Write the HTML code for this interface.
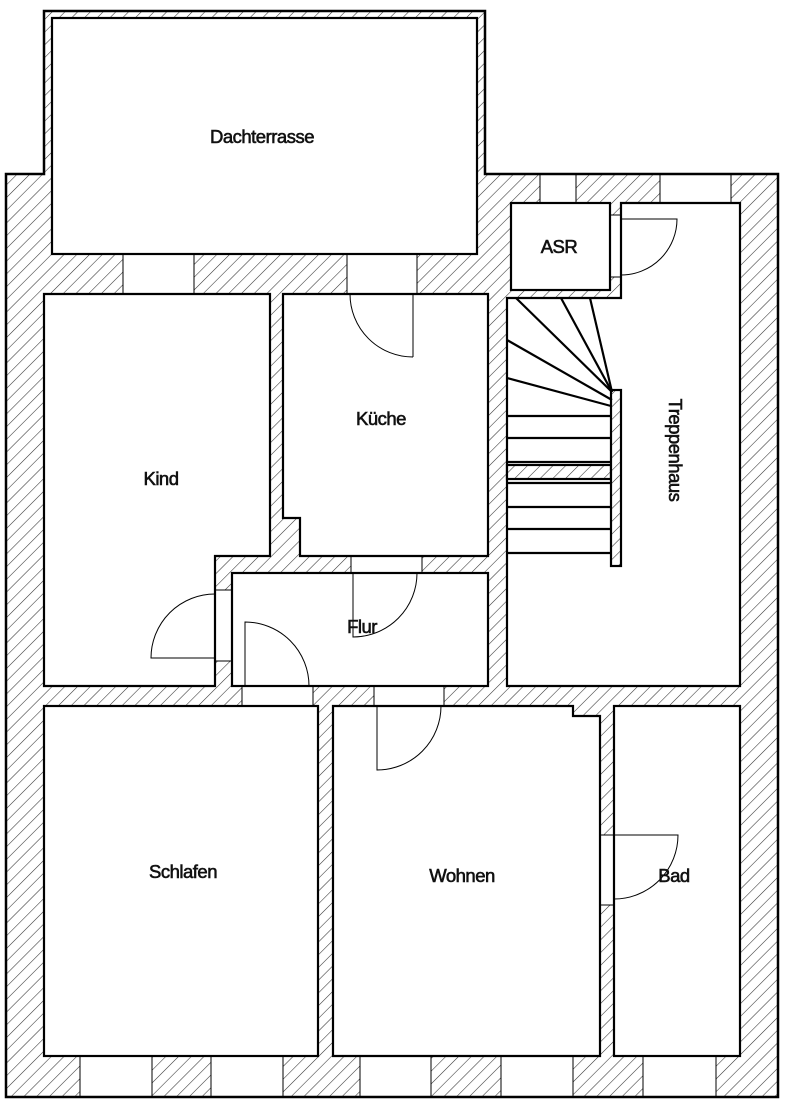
<!DOCTYPE html>
<html><head><meta charset="utf-8"><style>html,body{margin:0;padding:0;background:#fff}svg{display:block}</style></head>
<body>
<svg width="785" height="1105" viewBox="0 0 785 1105" xmlns="http://www.w3.org/2000/svg">
<defs>
<pattern id="h" patternUnits="userSpaceOnUse" width="9" height="9" patternTransform="rotate(45)">
<rect width="9" height="9" fill="#fff"/>
<line x1="0" y1="0" x2="0" y2="9" stroke="#333" stroke-width="1.1"/>
</pattern>
</defs>
<polygon points="6,174 44,174 44,11 485,11 485,174 778,174 778,1097 6,1097" fill="url(#h)"/>
<g fill="#fff" stroke="#000" stroke-width="1">
<rect x="123" y="254" width="71" height="40"/>
<rect x="347" y="254" width="70" height="40"/>
<rect x="540" y="174" width="36" height="29"/>
<rect x="660" y="174" width="71" height="29"/>
<rect x="80" y="1056" width="72" height="41"/>
<rect x="211" y="1056" width="72" height="41"/>
<rect x="360" y="1056" width="71" height="41"/>
<rect x="501" y="1056" width="72" height="41"/>
<rect x="643" y="1056" width="73" height="41"/>
<rect x="351" y="556" width="71" height="17"/>
<rect x="242" y="686" width="71" height="20"/>
<rect x="374" y="686" width="70" height="20"/>
<rect x="215" y="590" width="17" height="71"/>
<rect x="600" y="835" width="14" height="70"/>
<rect x="610" y="215" width="11" height="62"/>
</g>
<g fill="#fff" stroke="#000" stroke-width="2.2">
<rect x="52" y="18" width="425" height="236"/>
<polygon points="44,294 270,294 270,556 215,556 215,686 44,686"/>
<polygon points="283,294 488,294 488,556 300,556 300,518 283,518"/>
<rect x="232" y="573" width="256" height="113"/>
<polygon points="621,203 740,203 740,686 507,686 507,298 621,298"/>
<rect x="511" y="203" width="99" height="87"/>
<rect x="44" y="706" width="274" height="350"/>
<polygon points="333,706 573,706 573,716 600,716 600,1056 333,1056"/>
<rect x="614" y="706" width="126" height="350"/>
</g>
<g stroke="#000" stroke-width="2.2">
<rect x="507" y="465" width="104" height="14" fill="url(#h)"/>
<rect x="611" y="390" width="10" height="176" fill="url(#h)"/>
<line x1="612" y1="392" x2="516" y2="298"/>
<line x1="612" y1="392" x2="561" y2="298"/>
<line x1="612" y1="392" x2="590" y2="298"/>
<line x1="612" y1="400" x2="507" y2="340"/>
<line x1="611" y1="406" x2="507" y2="378"/>
<line x1="507" y1="416" x2="611" y2="416"/>
<line x1="507" y1="438" x2="611" y2="438"/>
<line x1="507" y1="462" x2="611" y2="462"/>
<line x1="507" y1="483" x2="611" y2="483"/>
<line x1="507" y1="507" x2="611" y2="507"/>
<line x1="507" y1="529" x2="611" y2="529"/>
<line x1="507" y1="553" x2="611" y2="553"/>
</g>
<g fill="none" stroke="#000" stroke-width="1">
<path d="M413,294 L413,357 M350,294 A63,63 0 0 0 413,357"/>
<path d="M353,573 L353,637 A64,64 0 0 0 417,573"/>
<path d="M215,658 L151,658 A64,64 0 0 1 215,594"/>
<path d="M245,686 L245,622 A64,64 0 0 1 309,686"/>
<path d="M377,706 L377,770 A64,64 0 0 0 441,706"/>
<path d="M614,835 L678,835 A64,64 0 0 1 614,899"/>
<path d="M621,219 L677,219 A56,56 0 0 1 621,275"/>
</g>
<polygon points="6,174 44,174 44,11 485,11 485,174 778,174 778,1097 6,1097" fill="none" stroke="#000" stroke-width="2.5"/>
<g font-family="'Liberation Sans', sans-serif" font-size="18.5" fill="#111" stroke="#111" stroke-width="0.6" text-anchor="middle" letter-spacing="-0.5">
<text x="262" y="143">Dachterrasse</text>
<text x="559" y="253">ASR</text>
<text x="381" y="425">Küche</text>
<text x="161" y="485">Kind</text>
<text x="362" y="633">Flur</text>
<text x="183" y="878">Schlafen</text>
<text x="462" y="882">Wohnen</text>
<text x="674" y="882">Bad</text>
<text transform="translate(669,450) rotate(90)">Treppenhaus</text>
</g>
</svg>
</body></html>
